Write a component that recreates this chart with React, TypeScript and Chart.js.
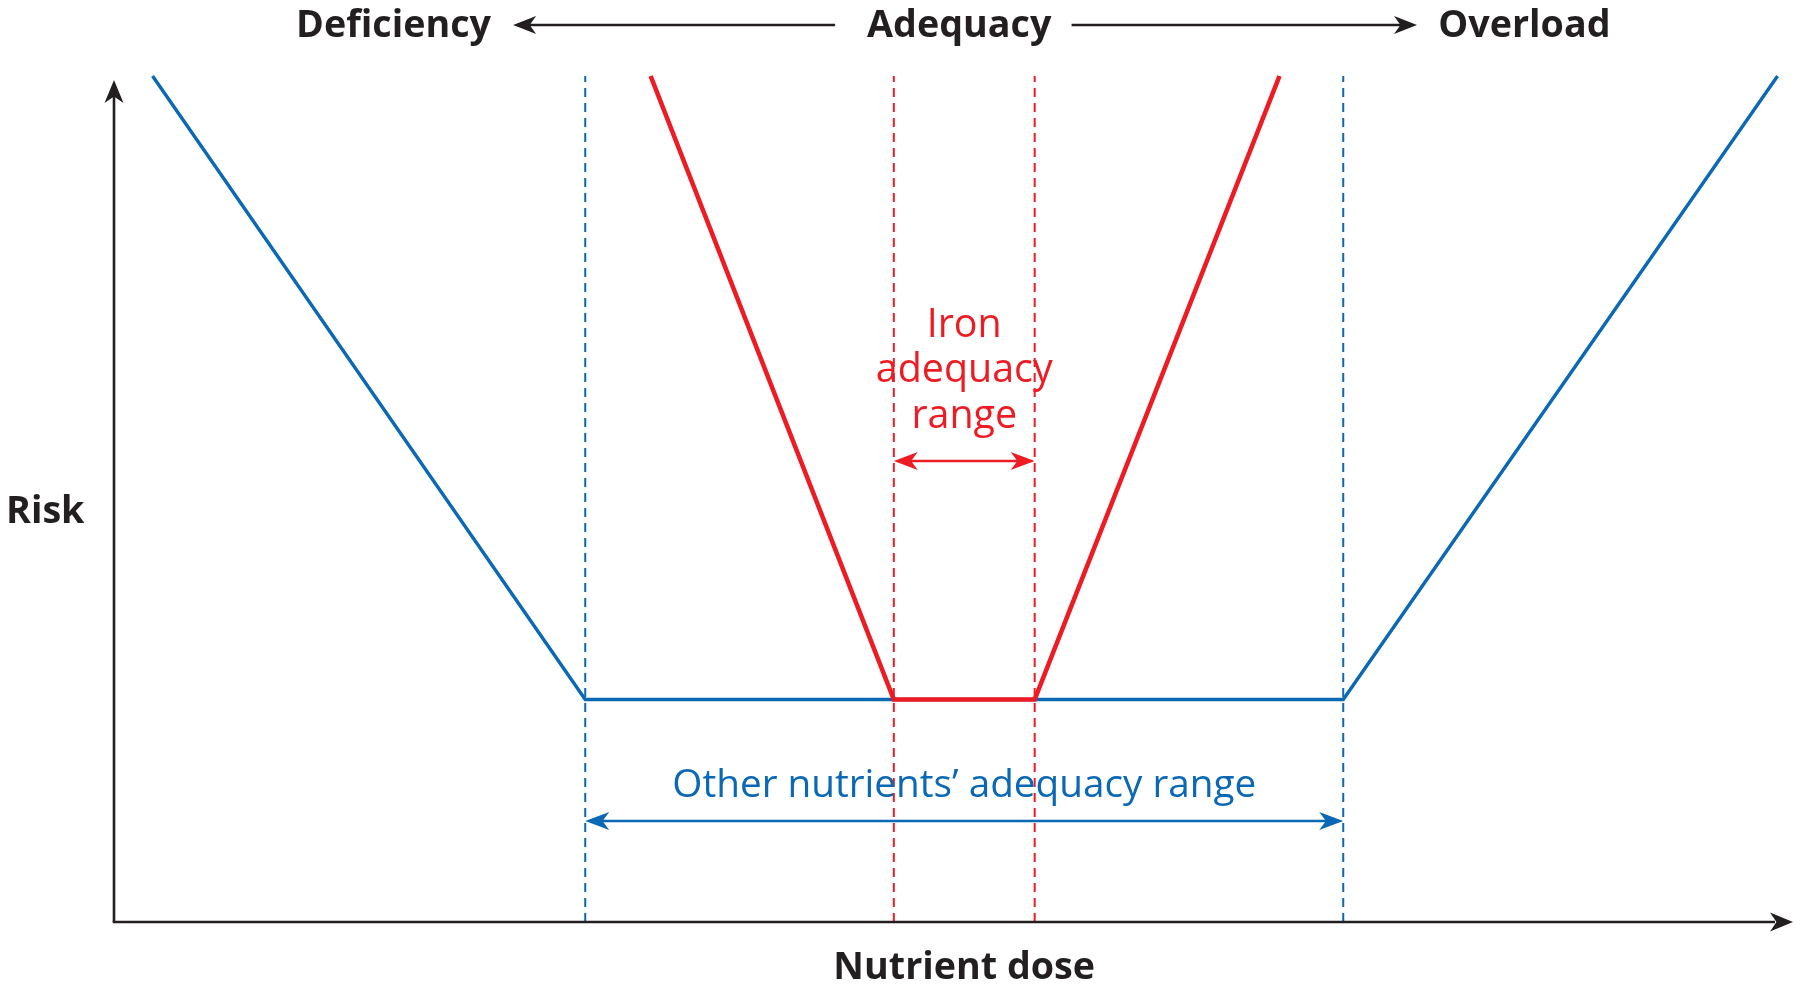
import React, { useEffect, useRef } from 'react';
import { Chart, registerables } from 'chart.js';

Chart.register(...registerables);

// Nutrient dose (0-100 along the x axis) and risk (0-100 along the y axis)
const doseOther = [2.3, 28.1, 73.3, 99.2];
const riskOther = [100, 26.3, 26.3, 100];
const doseIron = [32.0, 46.5, 54.9, 69.5];
const riskIron = [100, 26.3, 26.3, 100];
const otherRange = [28.1, 73.3];
const ironRange = [46.5, 54.9];
const zoneLabels = ['Deficiency', 'Adequacy', 'Overload'];
const zoneLabelDose = [16.67, 50.4, 84.1];
const ironLabelLines = ['Iron', 'adequacy', 'range'];
const otherLabel = 'Other nutrients\u2019 adequacy range';
const xTitle = 'Nutrient dose';
const yTitle = 'Risk';

const BLUE = '#0a68b4';
const RED = '#ed1c24';
const INK = '#231f20';
const REG = '"Open Sans", "Noto Sans", sans-serif';

function fitSize(ctx: CanvasRenderingContext2D, text: string, weight: string, family: string, target: number) {
  ctx.font = `${weight} 100px ${family}`;
  const w = ctx.measureText(text).width;
  return (100 * target) / w;
}

function arrowHead(ctx: CanvasRenderingContext2D, tx: number, ty: number, dx: number, dy: number, len: number, half: number, color: string) {
  const px = -dy, py = dx;
  ctx.save();
  ctx.fillStyle = color;
  ctx.beginPath();
  ctx.moveTo(tx, ty);
  ctx.lineTo(tx - dx * len + px * half, ty - dy * len + py * half);
  ctx.lineTo(tx - dx * len * 0.72, ty - dy * len * 0.72);
  ctx.lineTo(tx - dx * len - px * half, ty - dy * len - py * half);
  ctx.closePath();
  ctx.fill();
  ctx.restore();
}

function line(ctx: CanvasRenderingContext2D, x1: number, y1: number, x2: number, y2: number, color: string, w: number) {
  ctx.save();
  ctx.strokeStyle = color;
  ctx.lineWidth = w;
  ctx.beginPath();
  ctx.moveTo(x1, y1);
  ctx.lineTo(x2, y2);
  ctx.stroke();
  ctx.restore();
}

const decorPlugin = {
  id: 'decor',
  afterDraw(chart: any) {
    const ctx: CanvasRenderingContext2D = chart.ctx;
    const xs = chart.scales.x;
    const ys = chart.scales.y;
    const X = (v: number) => xs.getPixelForValue(v);
    const Y = (v: number) => ys.getPixelForValue(v);
    const x0 = X(0);
    const y0 = Y(0);

    // axes
    line(ctx, x0, y0, x0, 96, INK, 2.6);
    arrowHead(ctx, x0, 80, 0, -1, 23, 9.5, INK);
    line(ctx, x0 - 1.3, y0, 1775, y0, INK, 2.6);
    arrowHead(ctx, 1793, y0, 1, 0, 23, 9.5, INK);

    // other nutrients double arrow
    const oy = 821;
    const oa = X(otherRange[0]);
    const ob = X(otherRange[1]);
    line(ctx, oa + 12, oy, ob - 12, oy, BLUE, 2.6);
    arrowHead(ctx, oa, oy, -1, 0, 24, 9, BLUE);
    arrowHead(ctx, ob, oy, 1, 0, 24, 9, BLUE);

    // iron double arrow
    const ry = 461;
    const ra = X(ironRange[0]);
    const rb = X(ironRange[1]);
    line(ctx, ra + 12, ry, rb - 12, ry, RED, 2.6);
    arrowHead(ctx, ra, ry, -1, 0, 24, 9, RED);
    arrowHead(ctx, rb, ry, 1, 0, 24, 9, RED);

    ctx.save();
    ctx.textAlign = 'center';
    ctx.textBaseline = 'alphabetic';

    // iron label
    const ironSize = fitSize(ctx, ironLabelLines[1], '400', REG, 177);
    ctx.font = `400 ${ironSize}px ${REG}`;
    ctx.fillStyle = RED;
    const ironBase = [337, 382, 428];
    const ironMid = (ra + rb) / 2;
    ironLabelLines.forEach((t, i) => ctx.fillText(t, ironMid, ironBase[i]));

    // other label
    const otherSize = fitSize(ctx, otherLabel, '400', REG, 584);
    ctx.font = `400 ${otherSize}px ${REG}`;
    ctx.fillStyle = BLUE;
    ctx.fillText(otherLabel, (oa + ob) / 2, 797);

    // zone labels
    const boldSize = fitSize(ctx, zoneLabels[0], '700', REG, 195);
    ctx.font = `700 ${boldSize}px ${REG}`;
    ctx.fillStyle = INK;
    zoneLabels.forEach((t, i) => ctx.fillText(t, X(zoneLabelDose[i]), 37));

    // zone arrows
    const ay = 25;
    line(ctx, X(43.0), ay, X(23.8) + 14, ay, INK, 2.6);
    arrowHead(ctx, X(23.8), ay, -1, 0, 23, 9, INK);
    line(ctx, X(57.1), ay, X(77.7) - 14, ay, INK, 2.6);
    arrowHead(ctx, X(77.7), ay, 1, 0, 23, 9, INK);

    // axis titles
    ctx.fillText(xTitle, X(50.7), 979);
    ctx.textAlign = 'left';
    ctx.fillText(yTitle, 6, 523);
    ctx.restore();
  },
};

const pts = (xs: number[], ys: number[]) => xs.map((x, i) => ({ x, y: ys[i] }));
const vline = (x: number) => [{ x, y: 0 }, { x, y: 100 }];

export default function App() {
  const ref = useRef<HTMLCanvasElement | null>(null);

  useEffect(() => {
    if (!ref.current) return;
    const dashed = (x: number, color: string, order: number) => ({
      data: vline(x),
      borderColor: color,
      borderWidth: 2,
      borderDash: [9, 6],
      pointRadius: 0,
      showLine: true,
      clip: false as const,
      order,
    });
    const chart = new Chart(ref.current, {
      type: 'scatter',
      data: {
        datasets: [
          {
            label: 'Iron',
            data: pts(doseIron, riskIron),
            borderColor: RED,
            borderWidth: 4.6,
            pointRadius: 0,
            showLine: true,
            clip: false as const,
            order: 0,
          },
          {
            label: 'Other nutrients',
            data: pts(doseOther, riskOther),
            borderColor: BLUE,
            borderWidth: 3.4,
            pointRadius: 0,
            showLine: true,
            clip: false as const,
            order: 1,
          },
          dashed(ironRange[0], RED, 2),
          dashed(ironRange[1], RED, 2),
          dashed(otherRange[0], BLUE, 3),
          dashed(otherRange[1], BLUE, 3),
        ],
      },
      options: {
        responsive: false,
        animation: false,
        events: [],
        layout: { padding: { left: 114, right: 9, top: 76, bottom: 64 } },
        scales: {
          x: { type: 'linear', min: 0, max: 100, display: false },
          y: { type: 'linear', min: 0, max: 100, display: false },
        },
        plugins: { legend: { display: false }, tooltip: { enabled: false } },
      },
      plugins: [decorPlugin],
    });
    return () => chart.destroy();
  }, []);

  return (
    <div style={{ position: 'absolute', left: 0, top: 0, width: 1800, height: 986, background: '#fff' }}>
      <canvas ref={ref} width={1800} height={986} style={{ width: 1800, height: 986 }} />
    </div>
  );
}
